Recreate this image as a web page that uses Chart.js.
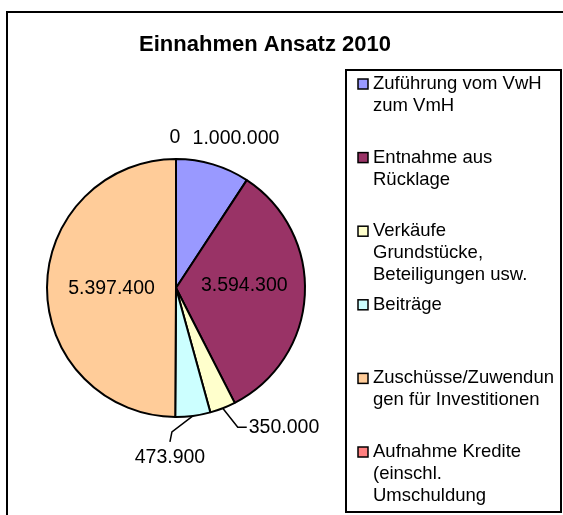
<!DOCTYPE html>
<html>
<head>
<meta charset="utf-8">
<script src="https://cdn.jsdelivr.net/npm/chart.js@4.4.1/dist/chart.umd.min.js"></script>
<style>
  html, body { margin: 0; padding: 0; background: #fff; overflow: hidden; }
  canvas { display: block; }
</style>
</head>
<body>
<canvas id="chart" width="563" height="515"></canvas>
<script>
// Daten
const chartTitle = "Einnahmen Ansatz 2010";
const categories = [
  ["Zuführung vom VwH", "zum VmH"],
  ["Entnahme aus", "Rücklage"],
  ["Verkäufe", "Grundstücke,", "Beteiligungen usw."],
  ["Beiträge"],
  ["Zuschüsse/Zuwendun", "gen für Investitionen"],
  ["Aufnahme Kredite", "(einschl.", "Umschuldung"],
];
const values = [1000000, 3594300, 350000, 473900, 5397400, 0];
const colors = ["#9999FF", "#993366", "#FFFFCC", "#CCFFFF", "#FFCC99", "#FF8080"];

const FONT = "'Liberation Sans', Arial, sans-serif";

// Platzierung der Wertebeschriftungen (relativ zum Bogenrand)
const labelPlace = [
  { type: "out", dx: 23, dy: -26 },
  { type: "in", f: 0.53, dy: -6 },
  { type: "leader", elbow: [15, 19], end: [24, 19] },
  { type: "leader", elbow: [-21, 16], end: [-23, 26], below: true },
  { type: "in", f: 0.5, dy: 1 },
  { type: "out", dx: -1, dy: -21 },
];

function fmt(v) {
  return String(v).replace(/\B(?=(\d{3})+(?!\d))/g, ".");
}

const decor = {
  id: "decor",
  beforeDraw(chart) {
    const ctx = chart.ctx;
    ctx.save();
    ctx.fillStyle = "#fff";
    ctx.fillRect(0, 0, chart.width, chart.height);
    ctx.strokeStyle = "#000";
    ctx.lineWidth = 2;
    ctx.strokeRect(7, 12, 700, 700);
    ctx.restore();
  },
  afterDatasetsDraw(chart) {
    const ctx = chart.ctx;
    const meta = chart.getDatasetMeta(0);
    ctx.save();
    ctx.font = "19.5px " + FONT;
    ctx.fillStyle = "#000";
    ctx.strokeStyle = "#000";
    ctx.lineWidth = 1.5;
    ctx.textBaseline = "middle";
    meta.data.forEach((arc, i) => {
      const p = arc.getProps(["x", "y", "startAngle", "endAngle", "outerRadius"], true);
      const mid = (p.startAngle + p.endAngle) / 2;
      const ex = p.x + Math.cos(mid) * p.outerRadius;
      const ey = p.y + Math.sin(mid) * p.outerRadius;
      const pl = labelPlace[i];
      const txt = fmt(values[i]);
      if (pl.type === "in") {
        ctx.textAlign = "center";
        ctx.fillText(txt,
          p.x + Math.cos(mid) * p.outerRadius * pl.f,
          p.y + Math.sin(mid) * p.outerRadius * pl.f + pl.dy);
      } else if (pl.type === "out") {
        ctx.textAlign = "center";
        ctx.fillText(txt, ex + pl.dx, ey + pl.dy);
      } else {
        ctx.beginPath();
        ctx.moveTo(ex, ey);
        ctx.lineTo(ex + pl.elbow[0], ey + pl.elbow[1]);
        ctx.lineTo(ex + pl.end[0], ey + pl.end[1]);
        ctx.stroke();
        if (pl.below) {
          ctx.textAlign = "center";
          ctx.fillText(txt, ex + pl.end[0], ey + pl.end[1] + 16);
        } else {
          ctx.textAlign = "left";
          ctx.fillText(txt, ex + pl.end[0] + 2, ey + pl.end[1]);
        }
      }
    });
    ctx.restore();
  },
  afterDraw(chart) {
    const ctx = chart.ctx;
    ctx.save();
    // Titel
    ctx.fillStyle = "#000";
    ctx.font = "bold 22px " + FONT;
    ctx.textAlign = "center";
    ctx.textBaseline = "middle";
    ctx.fillText(chartTitle, 265, 45);

    // Legende
    ctx.lineWidth = 2;
    ctx.strokeStyle = "#000";
    ctx.strokeRect(346, 70, 215, 442);
    ctx.font = "18.5px " + FONT;
    ctx.textAlign = "left";
    categories.forEach((lines, i) => {
      const y0 = 84 + i * 73.6;
      ctx.fillStyle = colors[i];
      ctx.fillRect(358, y0 - 5, 10, 10);
      ctx.lineWidth = 1.5;
      ctx.strokeRect(358, y0 - 5, 10, 10);
      ctx.fillStyle = "#000";
      lines.forEach((ln, j) => ctx.fillText(ln, 373, y0 + j * 22));
    });
    ctx.restore();
  },
};

new Chart(document.getElementById("chart"), {
  type: "pie",
  data: {
    labels: categories,
    datasets: [{
      data: values,
      backgroundColor: colors,
      borderColor: "#000",
      borderWidth: 2,
    }],
  },
  options: {
    responsive: false,
    animation: false,
    layout: { padding: { left: 46, right: 257, top: 158, bottom: 97 } },
    plugins: {
      legend: { display: false },
      tooltip: { enabled: false },
      title: { display: false },
    },
  },
  plugins: [decor],
});
</script>
</body>
</html>
